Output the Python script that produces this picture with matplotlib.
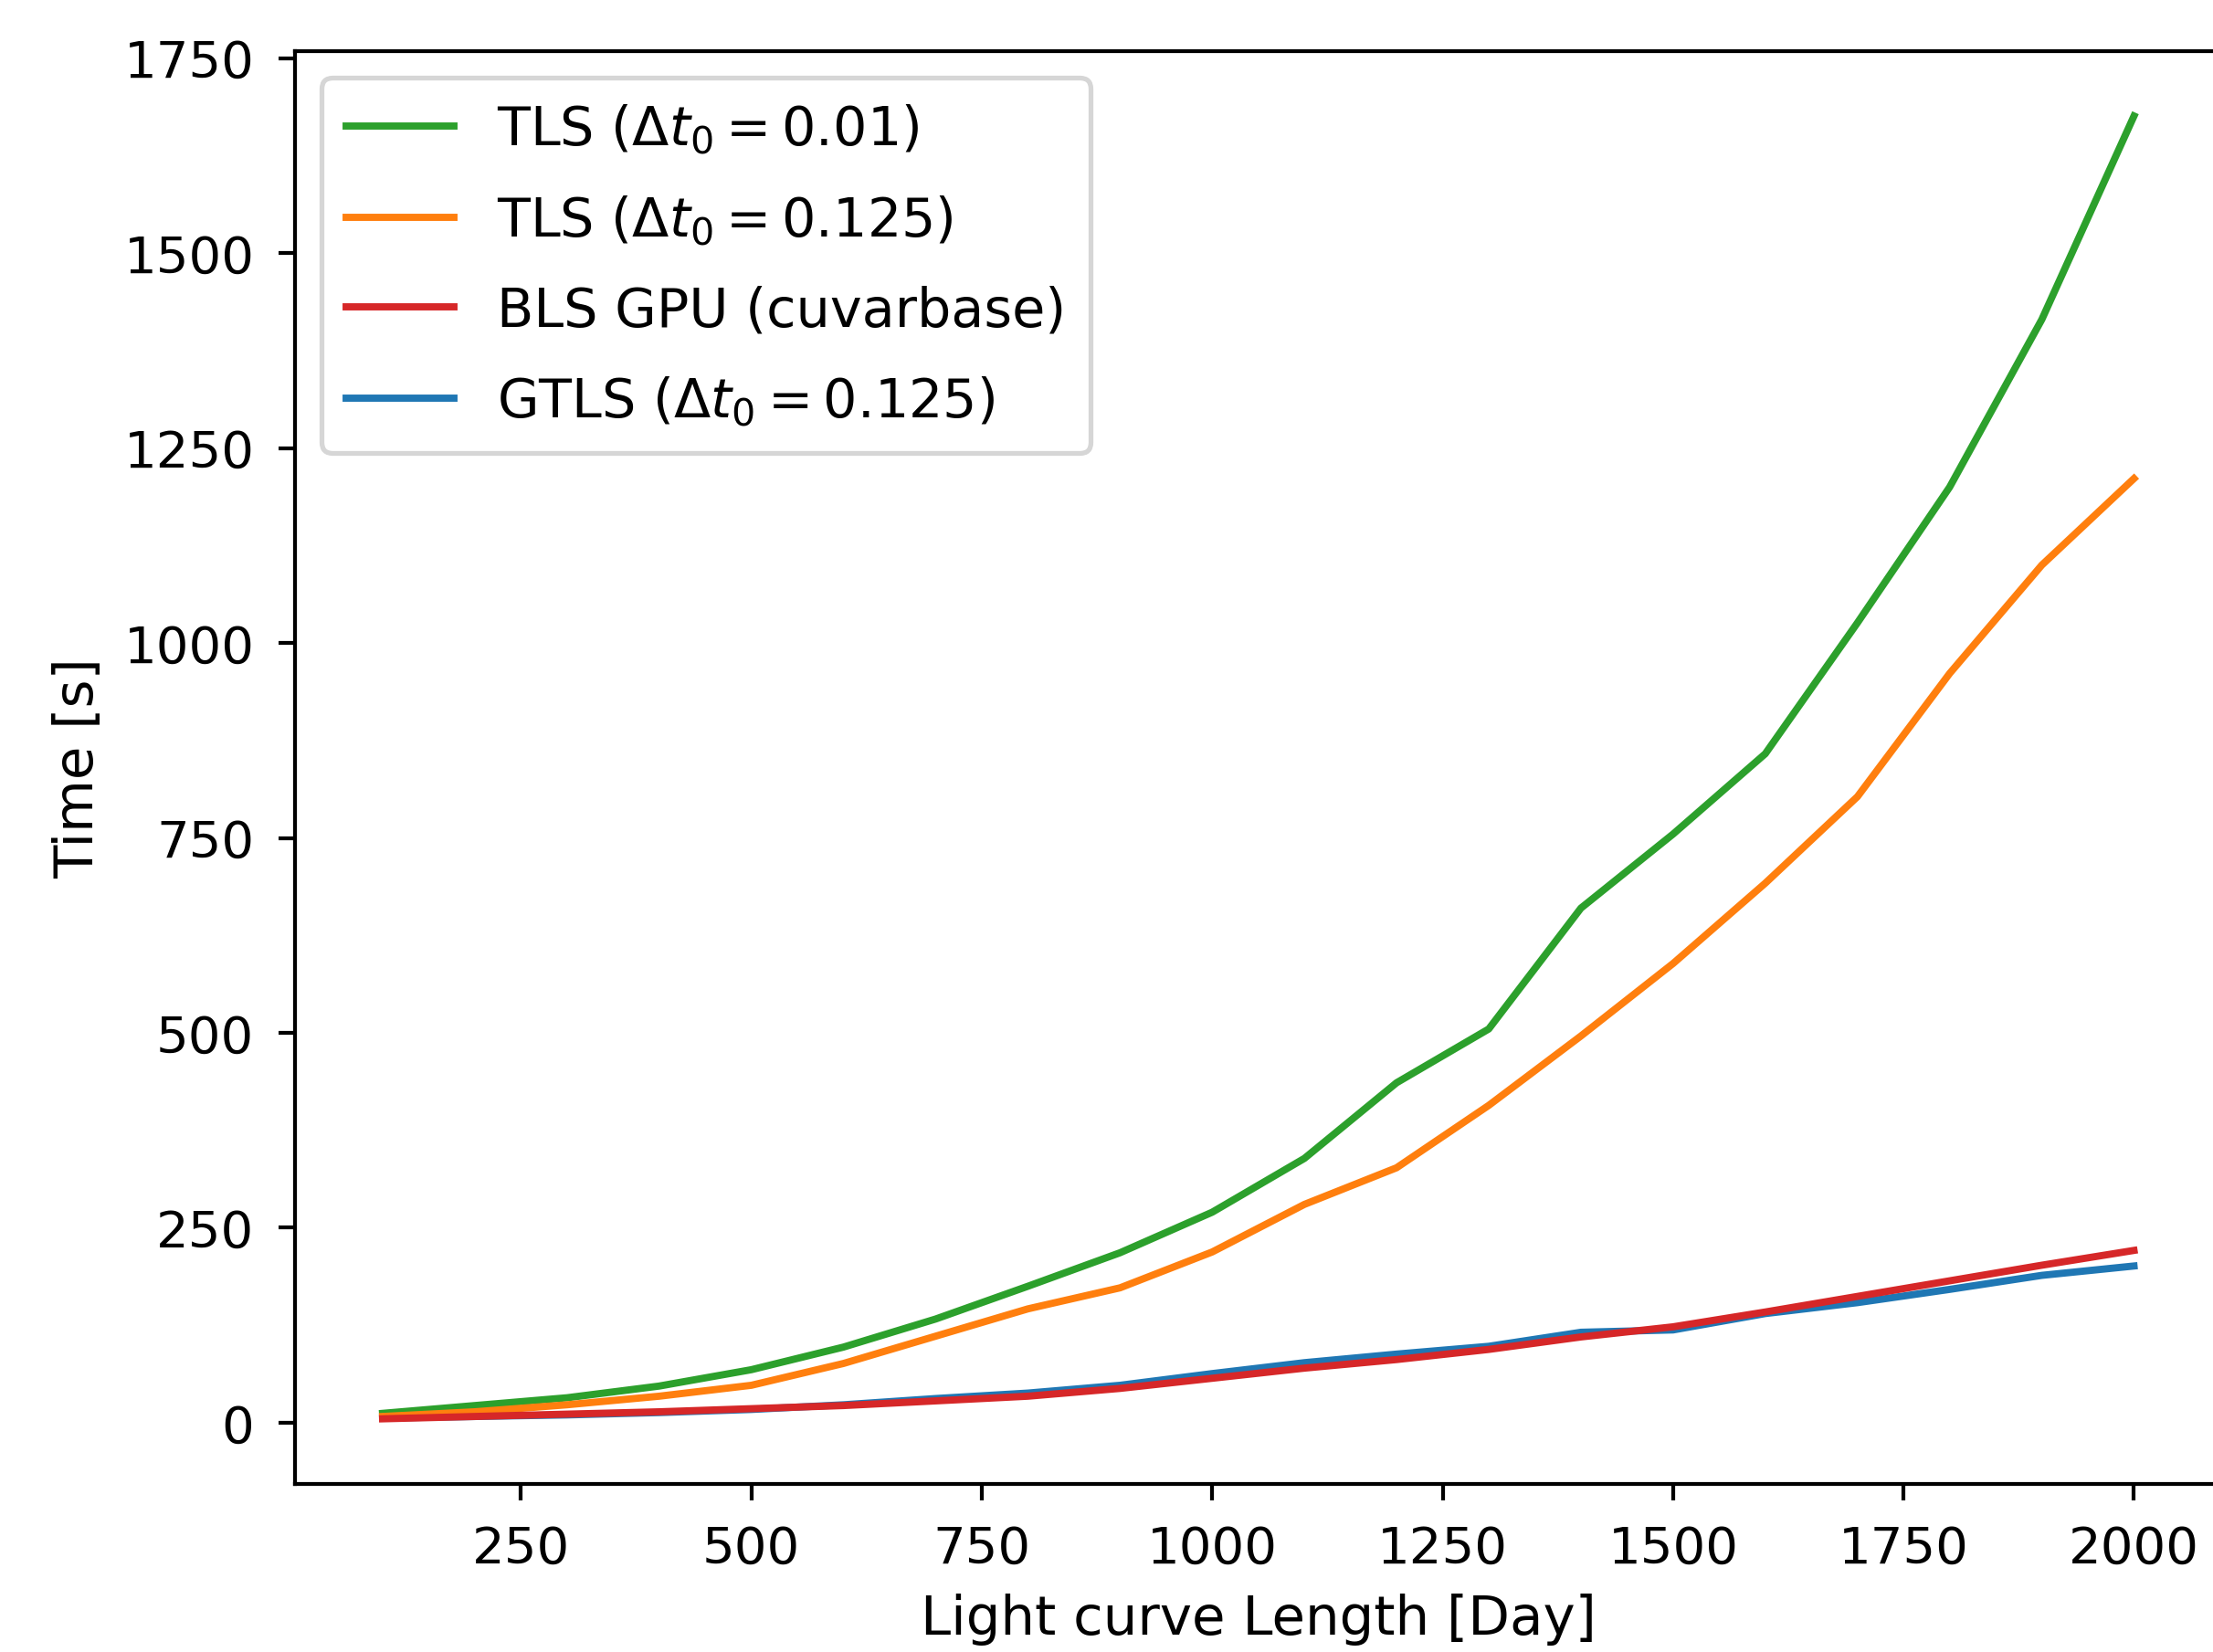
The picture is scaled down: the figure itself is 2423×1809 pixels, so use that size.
import matplotlib
matplotlib.use('Agg')
import matplotlib.pyplot as plt

# light curve length [day]
dias = [100, 200, 300, 400, 500, 600, 700, 800, 900, 1000,
        1100, 1200, 1300, 1400, 1500, 1600, 1700, 1800, 1900, 2000]

# run times [s]
tls_001 = [12, 22, 32, 47, 68, 97, 133, 175, 218, 270,
           339, 436, 505, 660, 755, 858, 1026, 1200, 1415, 1676]
tls_0125 = [8, 14, 23, 34, 48, 76, 111, 146, 173, 219,
            280, 327, 407, 496, 589, 692, 803, 961, 1100, 1211]
bls_gpu = [5, 8, 11, 14, 18, 22, 28, 34, 44, 57,
           70, 81, 94, 110, 123, 142, 162, 182, 202, 221]
gtls = [6, 8, 10, 13, 17, 23, 31, 38, 48, 63,
        77, 88, 98, 116, 119, 140, 154, 171, 189, 201]

labels = [r'TLS ($\Delta t_0 = 0.01$)',
          r'TLS ($\Delta t_0 = 0.125$)',
          'BLS GPU (cuvarbase)',
          r'GTLS ($\Delta t_0 = 0.125$)']

DPI = 378.6
fig = plt.figure(figsize=(2423.4 / DPI, 1809.4 / DPI), dpi=DPI)
ax = fig.add_axes([0.1333, 0.1017, 0.8704, 0.8673])

# blue first so the red line sits on top of it
l_gtls, = ax.plot(dias, gtls, color='tab:blue', lw=1.5)
l_tls1, = ax.plot(dias, tls_001, color='tab:green', lw=1.5)
l_tls2, = ax.plot(dias, tls_0125, color='tab:orange', lw=1.5)
l_bls, = ax.plot(dias, bls_gpu, color='tab:red', lw=1.5)

ax.legend([l_tls1, l_tls2, l_bls, l_gtls], labels,
          loc='upper left', fontsize=11.2, labelspacing=0.7,
          borderpad=0.45)

ax.set_xticks([250, 500, 750, 1000, 1250, 1500, 1750, 2000])
ax.set_yticks([0, 250, 500, 750, 1000, 1250, 1500, 1750])
ax.tick_params(labelsize=10.7, pad=5)
ax.set_xlabel('Light curve Length [Day]', fontsize=11.3)
ax.set_ylabel('Time [s]', fontsize=11.3)

fig.savefig('out.png', dpi=DPI)
